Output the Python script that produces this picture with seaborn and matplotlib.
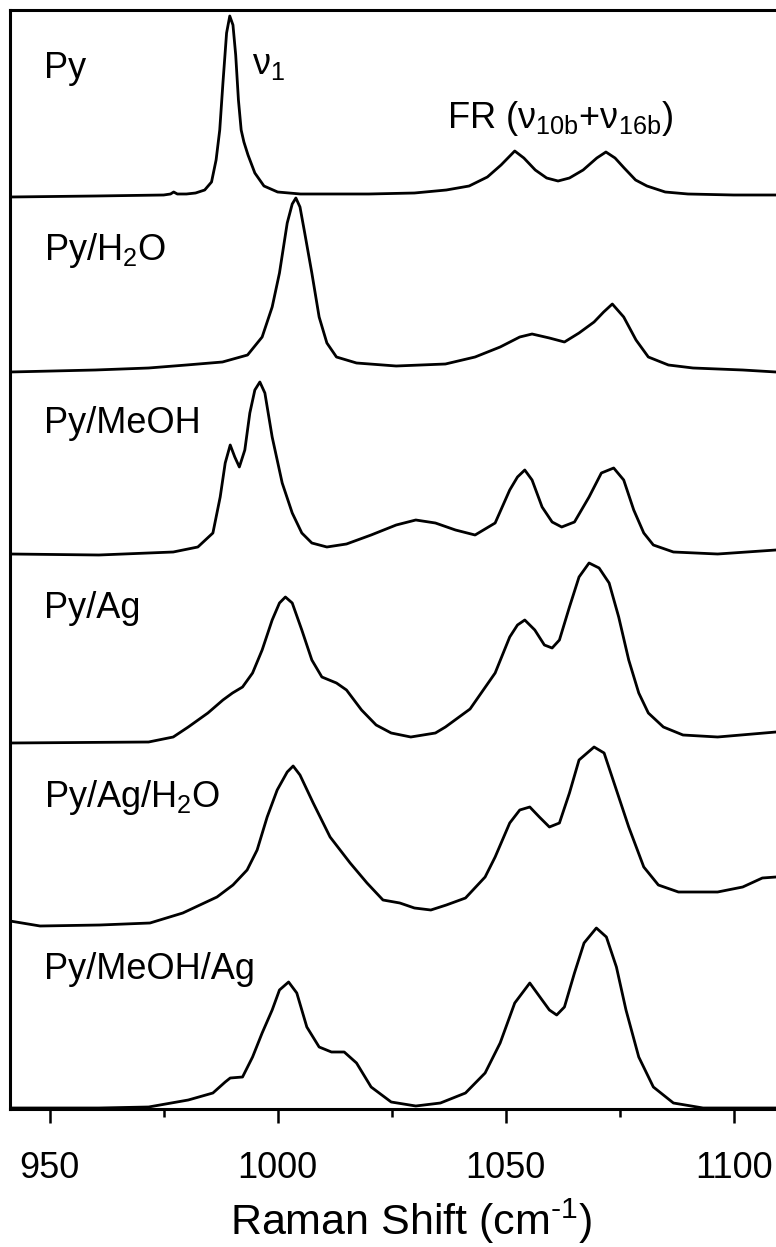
import matplotlib
matplotlib.use("Agg")
import matplotlib.pyplot as plt
import numpy as np
import pandas as pd
import seaborn as sns
from matplotlib.ticker import FixedLocator

# ---------------- data ----------------
samples = ["Py", "Py/H$_2$O", "Py/MeOH", "Py/Ag", "Py/Ag/H$_2$O", "Py/MeOH/Ag"]
offsets = [912, 737, 554, 366, 184, 2]

py_x = [941.3, 960, 975, 976.5, 977.2, 978, 980, 982, 984, 985.5, 986.5, 987.3, 988.0,
        988.8, 989.5, 990.2, 990.8, 991.4, 992.0, 992.6, 993.5, 995, 997, 1000, 1005,
        1020, 1030, 1037, 1042, 1046, 1049, 1052, 1054, 1056.5, 1059, 1061.5, 1064,
        1067, 1070, 1072, 1074, 1076, 1078.5, 1081, 1085, 1090, 1100, 1109.3]
py_y = [0, 1, 2, 3, 5, 3, 3, 4, 7, 15, 37, 67, 114,
        164, 181, 172, 142, 97, 67, 55, 42, 24, 11, 5, 3,
        3, 4, 7, 11, 20, 32, 46, 39, 27, 19, 16, 19,
        27, 39, 45, 39, 29, 17, 11, 5, 3, 2, 2]

h2o_x = [941.3, 960, 971.7, 980, 987.9, 993.4, 996.6, 998.8, 1000.4, 1002.1, 1003.2,
         1004.0, 1004.9, 1005.9, 1007.5, 1009.1, 1010.8, 1012.9, 1017.3, 1026, 1036.8,
         1043.3, 1048.8, 1053.1, 1055.8, 1059.6, 1062.9, 1066.1, 1069.4, 1071.5, 1073.4,
         1075.9, 1078.6, 1081.3, 1085.7, 1091.1, 1102, 1109.3]
h2o_y = [0, 2, 4, 7, 10, 17, 35, 65, 99, 149, 168,
         174, 165, 140, 99, 55, 29, 15, 9, 6, 8,
         15, 25, 35, 38, 34, 30, 39, 50, 60, 68,
         55, 32, 15, 7, 4, 2, 0]

meoh_x = [941.3, 960.8, 977.1, 982.5, 985.8, 987.4, 988.5, 989.6, 990.6, 991.6, 992.8,
          993.9, 995.0, 996.1, 997.2, 998.8, 1001.0, 1003.2, 1005.3, 1007.5, 1010.8,
          1015.1, 1020.5, 1026, 1030.3, 1034.6, 1039, 1043.3, 1047.7, 1050.9, 1052.6,
          1054.2, 1055.8, 1058, 1060.2, 1062.3, 1065.1, 1068.3, 1071, 1073.7, 1075.9,
          1078.1, 1080.3, 1082.4, 1086.8, 1096.5, 1109.3]
meoh_y = [1, 0, 3, 8, 22, 58, 92, 110, 98, 88, 105,
          142, 165, 173, 162, 118, 72, 42, 22, 12, 8,
          11, 20, 30, 35, 32, 25, 20, 32, 65, 78,
          85, 75, 48, 33, 28, 33, 58, 82, 87, 75,
          45, 22, 10, 3, 1, 5]

ag_x = [941.3, 971.7, 977.1, 980.4, 984.7, 988.0, 990.1, 992.3, 994.5, 996.6, 998.8,
        1000.4, 1001.7, 1003.2, 1005.3, 1007.5, 1009.7, 1012.9, 1015.1, 1018.4, 1021.6,
        1024.9, 1029.2, 1034.6, 1036.8, 1042.2, 1047.7, 1050.9, 1052.6, 1054.2, 1056.4,
        1058.5, 1060.2, 1061.8, 1064.0, 1066.1, 1068.3, 1070.5, 1072.7, 1074.8, 1077.0,
        1079.2, 1081.3, 1084.6, 1088.9, 1096.5, 1109.3]
ag_y = [0, 1, 6, 16, 30, 43, 50, 56, 70, 93, 123,
        140, 146, 140, 113, 83, 66, 60, 53, 33, 18,
        10, 6, 10, 16, 34, 70, 106, 118, 123, 113,
        98, 95, 103, 136, 166, 180, 175, 160, 126, 83,
        50, 30, 16, 8, 6, 11]

agh2o_x = [941.3, 947.9, 961.0, 972.0, 979.2, 986.7, 990.2, 993.3, 995.5, 997.7, 999.9,
           1002.1, 1003.4, 1004.9, 1007.8, 1011.5, 1015.9, 1019.6, 1023.1, 1026.8, 1030,
           1033.6, 1037, 1041.2, 1045.5, 1047.7, 1050.9, 1053.1, 1055.3, 1057.4, 1059.6,
           1061.8, 1064.0, 1066.1, 1069.4, 1071.6, 1074.3, 1077.0, 1080.3, 1083.5, 1087.9,
           1096.5, 1102.0, 1106.3, 1109.3]
agh2o_y = [4, -1, 0, 2, 12, 28, 40, 55, 75, 108, 135,
           153, 159, 150, 122, 88, 62, 42, 25, 22, 17,
           15, 20, 27, 48, 68, 102, 115, 118, 108, 98,
           102, 132, 165, 178, 172, 135, 98, 58, 40, 33,
           33, 38, 47, 48]

meohag_x = [941.3, 960.8, 971.7, 980.4, 985.8, 988.5, 989.6, 992.3, 994.5, 996.6, 998.8,
            1000.4, 1002.4, 1004.2, 1006.4, 1009.1, 1011.8, 1014.6, 1017.3, 1020.5, 1024.9,
            1030.3, 1035.7, 1041.2, 1045.5, 1048.8, 1052.0, 1055.3, 1058.0, 1059.6, 1061.2,
            1062.9, 1065.1, 1067.2, 1069.9, 1072.1, 1074.3, 1076.4, 1079.2, 1082.4, 1086.8,
            1093.3, 1109.3]
meohag_y = [-1, -1, 0, 7, 14, 25, 29, 30, 50, 74, 97,
            117, 125, 114, 80, 60, 55, 55, 44, 20, 5,
            1, 4, 14, 34, 64, 104, 124, 107, 97, 92,
            100, 134, 164, 179, 170, 140, 97, 50, 20, 4,
            -1, -1]

xtick_major = [950, 1000, 1050, 1100]
xtick_minor = [975, 1025, 1075]
xtick_labels = ["950", "1000", "1050", "1100"]

series_x = [py_x, h2o_x, meoh_x, ag_x, agh2o_x, meohag_x]
series_y = [py_y, h2o_y, meoh_y, ag_y, agh2o_y, meohag_y]

# ---------------- assemble long table ----------------
frames = []
for name, off, xs, ys in zip(samples, offsets, series_x, series_y):
    frames.append(pd.DataFrame({"shift": xs,
                                "signal": np.asarray(ys, float) + off,
                                "sample": name}))
df = pd.concat(frames, ignore_index=True)

# ---------------- style ----------------
sns.set_style("ticks")
plt.rcParams["font.family"] = ["Liberation Sans", "DejaVu Sans"]
plt.rcParams["mathtext.fontset"] = "custom"
plt.rcParams["mathtext.rm"] = "Liberation Sans"
plt.rcParams["mathtext.it"] = "Liberation Sans:italic"
plt.rcParams["mathtext.bf"] = "Liberation Sans:bold"
plt.rcParams["mathtext.default"] = "regular"
plt.rcParams["text.color"] = "black"
plt.rcParams["axes.labelcolor"] = "black"
plt.rcParams["xtick.color"] = "black"
plt.rcParams["xtick.labelcolor"] = "black"

W, H = 776, 1247
fig = plt.figure(figsize=(W / 100, H / 100), dpi=100)
ax = fig.add_axes([10 / W, 1 - 1109 / H, 766 / W, 1099 / H])

sns.lineplot(data=df, x="shift", y="signal", units="sample", estimator=None,
             sort=False, color="black", linewidth=2.0, legend=False, ax=ax)
for ln in ax.get_lines():
    ln.set_solid_joinstyle("round")

ax.set_xlim(941.3, 1109.3)
ax.set_ylim(0, 1099)

for side in ("left", "bottom", "top"):
    ax.spines[side].set_linewidth(2.2)
    ax.spines[side].set_color("black")
ax.spines["right"].set_visible(False)

ax.set_yticks([])
ax.set_ylabel("")
ax.xaxis.set_major_locator(FixedLocator(xtick_major))
ax.xaxis.set_minor_locator(FixedLocator(xtick_minor))
ax.set_xticklabels(xtick_labels)
ax.tick_params(axis="x", which="major", direction="out", length=10, width=1.8,
               pad=20, labelsize=26, color="black", labelcolor="black")
ax.tick_params(axis="x", which="minor", direction="out", length=6, width=1.8,
               color="black")

ax.set_xlabel("Raman Shift (cm$^{\\text{-}1}$)", fontsize=31, va="baseline",
              color="black")
ax.xaxis.set_label_coords((411 - 10) / 766, -(1235 - 1109) / 1099)

# sample labels (baseline pixel rows converted to data)
label_rows = [78, 260, 433, 618, 807, 979]
for name, row in zip(samples, label_rows):
    ax.text(948.8, 1109 - row, name, fontsize=26, va="baseline", ha="left",
            color="black")

ax.text(994.4, 1109 - 74, "\u03bd$_1$", fontsize=26, va="baseline", ha="left",
        color="black")
ax.text(1037.1, 1109 - 128, "FR (\u03bd$_{10b}$+\u03bd$_{16b}$)", fontsize=26,
        va="baseline", ha="left", color="black")

fig.savefig("out.png", dpi=100)
